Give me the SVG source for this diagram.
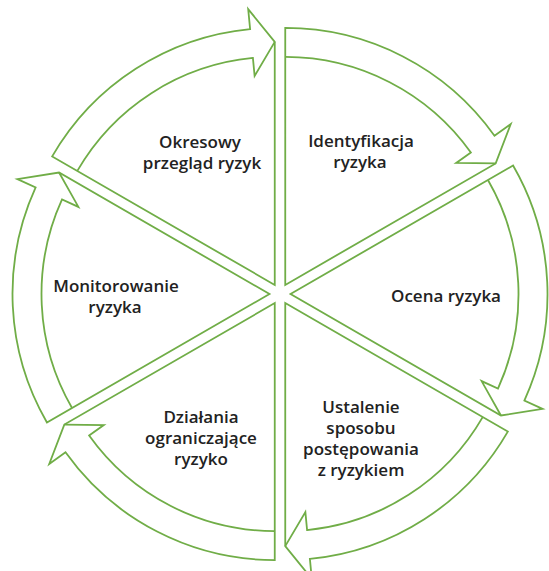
<svg xmlns="http://www.w3.org/2000/svg" width="549" height="571" viewBox="0 0 549 571">
  <style>
    .seg { fill: #ffffff; stroke: #70AD47; stroke-width: 1.8; stroke-linejoin: miter; }
    .band { fill: none; stroke: #70AD47; stroke-width: 1.8; stroke-linejoin: miter; }
    .lbl { font-family: "Open Sans", "Noto Sans", "DejaVu Sans", sans-serif; font-size: 17px; font-weight: 600; fill: #222222; text-anchor: middle; }
  </style>
  <rect width="549" height="571" fill="#ffffff"/>
  <g id="connectors"></g>
  <g id="node-identyfikacja">
    <path class="seg" d="M285.25,284.91 L285.25,27.91 A257,257 0 0 1 494.48,135.67 L510.76,124.06 L495.69,163.41 Z"/>
    <path class="band" d="M285.25,56.91 A228,228 0 0 1 470.87,152.51 L456.22,162.96 L495.69,163.41"/>
    <text class="lbl" x="361" y="146.5">Identyfikacja<tspan x="360" dy="21">ryzyka</tspan></text>
  </g>
  <g id="node-ocena">
    <path class="seg" d="M290.5,294 L513.07,165.5 A257,257 0 0 1 524.36,400.58 L542.56,408.87 L500.94,415.5 Z"/>
    <path class="band" d="M487.95,180 A228,228 0 0 1 497.97,388.55 L481.59,381.08 L500.94,415.5"/>
    <text class="lbl" x="446" y="302">Ocena ryzyka</text>
  </g>
  <g id="node-ustalenie">
    <path class="seg" d="M285.25,303.09 L507.82,431.59 A257,257 0 0 1 309.88,558.91 L311.8,578.82 L285.25,546.09 Z"/>
    <path class="band" d="M482.7,417.09 A228,228 0 0 1 307.1,530.04 L305.38,512.12 L285.25,546.09"/>
    <text class="lbl" x="361" y="413">Ustalenie<tspan x="361" dy="21">sposobu</tspan><tspan x="361" dy="21">postępowania</tspan><tspan x="361" dy="21">z ryzykiem</tspan></text>
  </g>
  <g id="node-dzialania">
    <path class="seg" d="M274.75,303.09 L274.75,560.09 A257,257 0 0 1 65.52,452.33 L49.24,463.94 L64.31,424.59 Z"/>
    <path class="band" d="M274.75,531.09 A228,228 0 0 1 89.13,435.49 L103.78,425.04 L64.31,424.59"/>
    <text class="lbl" x="201" y="423">Działania<tspan x="201" dy="21">ograniczające</tspan><tspan x="201" dy="21">ryzyko</tspan></text>
  </g>
  <g id="node-monitorowanie">
    <path class="seg" d="M269.5,294 L46.93,422.5 A257,257 0 0 1 35.64,187.42 L17.44,179.13 L59.06,172.5 Z"/>
    <path class="band" d="M72.05,408 A228,228 0 0 1 62.03,199.45 L78.41,206.92 L59.06,172.5"/>
    <text class="lbl" x="116" y="291.5">Monitorowanie<tspan x="115" dy="21">ryzyka</tspan></text>
  </g>
  <g id="node-okresowy">
    <path class="seg" d="M274.75,284.91 L52.18,156.41 A257,257 0 0 1 250.12,29.09 L248.2,9.18 L274.75,41.91 Z"/>
    <path class="band" d="M77.3,170.91 A228,228 0 0 1 252.9,57.96 L254.62,75.88 L274.75,41.91"/>
    <text class="lbl" x="200" y="147.5">Okresowy<tspan x="202" dy="21">przegląd ryzyk</tspan></text>
  </g>
</svg>
